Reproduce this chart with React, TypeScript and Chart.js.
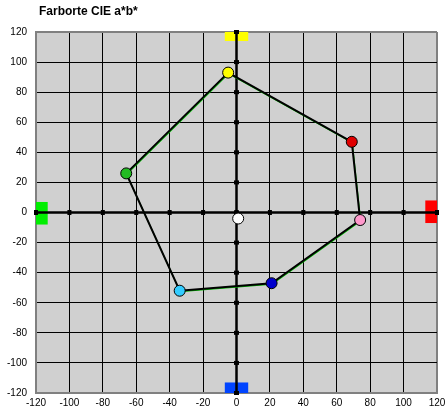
import React, { useEffect, useRef } from "react";
import { Chart, registerables } from "chart.js";

Chart.register(...registerables);

const titleText = "Farborte CIE a*b*";
const tickValues = [-120, -100, -80, -60, -40, -20, 0, 20, 40, 60, 80, 100, 120];

// polygon outline (closed)
const polyA = [-5, 69, 74, 21, -34, -66, -5];
const polyB = [93, 47, -5, -47, -52, 26, 93];

// colour points
const pointA = [-5, 69, 74, 21, -34, -66, 1];
const pointB = [93, 47, -5, -47, -52, 26, -4];
const pointColors = ["#FFFF00", "#E00000", "#FF99CC", "#0000CC", "#33CCFF", "#22BB22", "#FFFFFF"];

// direction marker rectangles
const markerColors = ["#FFFF00", "#0044FF", "#00EE00", "#FF0000"];
const markerA0 = [-7, -7, -120, 113];
const markerA1 = [7, 7, -113, 120];
const markerB0 = [114, -120, -8, -7];
const markerB1 = [120, -113, 7, 8];

const FONT = "'Liberation Sans', Arial, sans-serif";

const overlayPlugin = {
  id: "overlay",
  beforeDraw(chart: any) {
    const { ctx, chartArea } = chart;
    ctx.save();
    ctx.fillStyle = "#D0D0D0";
    ctx.fillRect(chartArea.left, chartArea.top, chartArea.right - chartArea.left, chartArea.bottom - chartArea.top);
    ctx.restore();
  },
  beforeDatasetsDraw(chart: any) {
    const { ctx, scales } = chart;
    const x = scales.x;
    const y = scales.y;
    ctx.save();
    for (let i = 0; i < markerColors.length; i++) {
      const px0 = x.getPixelForValue(markerA0[i]);
      const px1 = x.getPixelForValue(markerA1[i]);
      const py0 = y.getPixelForValue(markerB0[i]);
      const py1 = y.getPixelForValue(markerB1[i]);
      ctx.fillStyle = markerColors[i];
      ctx.fillRect(Math.min(px0, px1), Math.min(py0, py1), Math.abs(px1 - px0), Math.abs(py1 - py0));
    }
    // zero axes
    const x0 = x.getPixelForValue(0);
    const y0 = y.getPixelForValue(0);
    ctx.strokeStyle = "#000";
    ctx.lineWidth = 2.5;
    ctx.beginPath();
    ctx.moveTo(x.left, y0);
    ctx.lineTo(x.right, y0);
    ctx.moveTo(x0, y.top);
    ctx.lineTo(x0, y.bottom);
    ctx.stroke();
    ctx.fillStyle = "#000";
    for (const v of tickValues) {
      const px = x.getPixelForValue(v);
      ctx.fillRect(px - 2, y0 - 2.5, 4, 5);
      const py = y.getPixelForValue(v);
      ctx.fillRect(x0 - 2.5, py - 2, 5, 4);
    }
    ctx.restore();
  },
  beforeDatasetDraw(chart: any, args: any) {
    if (args.index === 0) {
      chart.ctx.save();
      chart.ctx.translate(0.5, 1);
    }
  },
  afterDatasetDraw(chart: any, args: any) {
    if (args.index === 0) {
      chart.ctx.restore();
    }
  },
  afterDraw(chart: any) {
    const { ctx } = chart;
    ctx.save();
    ctx.font = `bold 12px ${FONT}`;
    ctx.fillStyle = "#000";
    ctx.textBaseline = "middle";
    ctx.textAlign = "left";
    ctx.fillText(titleText, 39, 12);
    ctx.restore();
  },
};

export default function App() {
  const ref = useRef<HTMLCanvasElement>(null);
  useEffect(() => {
    if (!ref.current) return;
    const gridColor = (c: any) =>
      c.tick && (c.tick.value === 120 || c.tick.value === -120) ? "#808080" : "#000000";
    const gridWidth = (c: any) =>
      c.tick && (c.tick.value === 120 || c.tick.value === -120) ? 2 : 1;
    const chart = new Chart(ref.current, {
      type: "scatter",
      data: {
        datasets: [
          {
            data: polyA.map((a, i) => ({ x: a, y: polyB[i] })),
            showLine: true,
            borderColor: "#00BB00",
            borderWidth: 1.2,
            pointRadius: 0,
            fill: false,
            order: 3,
          },
          {
            data: polyA.map((a, i) => ({ x: a, y: polyB[i] })),
            showLine: true,
            borderColor: "#000000",
            borderWidth: 2,
            pointRadius: 0,
            fill: false,
            order: 2,
          },
          {
            data: pointA.map((a, i) => ({ x: a, y: pointB[i] })),
            showLine: false,
            pointRadius: 5.5,
            pointBackgroundColor: pointColors,
            pointBorderColor: "#000",
            pointBorderWidth: 1,
            order: 1,
          },
        ],
      },
      plugins: [overlayPlugin],
      options: {
        responsive: false,
        animation: false,
        layout: { padding: { top: 32, right: 8, left: 0, bottom: 0 } },
        plugins: {
          legend: { display: false },
          tooltip: { enabled: false },
          title: { display: false },
        },
        scales: {
          x: {
            type: "linear",
            min: -120,
            max: 120,
            ticks: { stepSize: 20, color: "#000", font: { family: FONT, size: 10 }, padding: 4, maxRotation: 0, autoSkip: false },
            grid: { color: gridColor, lineWidth: gridWidth, drawTicks: false },
            border: { color: "#808080", width: 2 },
            afterFit: (s: any) => { s.height = 19; s.paddingRight = 0; s.paddingLeft = 0; },
          },
          y: {
            type: "linear",
            min: -120,
            max: 120,
            ticks: { stepSize: 20, color: "#000", font: { family: FONT, size: 10 }, padding: 9, autoSkip: false },
            grid: { color: gridColor, lineWidth: gridWidth, drawTicks: false },
            border: { color: "#808080", width: 2 },
            afterFit: (s: any) => { s.width = 36; s.paddingTop = 0; s.paddingBottom = 0; },
          },
        },
      },
    } as any);
    return () => chart.destroy();
  }, []);
  return (
    <div style={{ position: "absolute", left: 0, top: 0, width: 445, height: 412, background: "#fff" }}>
      <canvas ref={ref} width={445} height={412} />
    </div>
  );
}
